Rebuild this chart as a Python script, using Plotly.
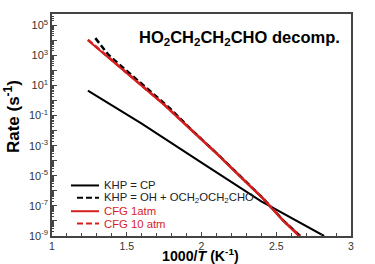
import plotly.graph_objects as go

# 1000/T (K^-1) and rates (s^-1)
x_khp_cp = [1.24, 1.6, 2.0, 2.4, 2.82]
y_khp_cp = [4.5e0, 2.9e-2, 7.5e-5, 2.0e-7, 1.0e-9]

x_khp_oh = [1.29, 1.33, 1.377, 1.468, 1.55, 1.65, 1.8, 1.926, 2.1, 2.3, 2.41, 2.55, 2.66]
y_khp_oh = [1.4e4, 4.5e3, 1.1e3, 1.75e2, 3.3e1, 4.8e0, 2.4e-1, 1.3e-2, 3.2e-4, 3.7e-6, 3.3e-7, 1.0e-8, 1.0e-9]

x_cfg1 = [1.24, 1.5, 1.75, 1.926, 2.1, 2.3, 2.41, 2.55, 2.65]
y_cfg1 = [1.0e4, 6.0e1, 5.0e-1, 1.2e-2, 3.0e-4, 3.5e-6, 3.1e-7, 9.3e-9, 1.0e-9]

x_cfg10 = [1.24, 1.5, 1.75, 1.926, 2.1, 2.3, 2.41, 2.55, 2.66]
y_cfg10 = [1.1e4, 6.6e1, 5.5e-1, 1.3e-2, 3.2e-4, 3.7e-6, 3.3e-7, 9.8e-9, 1.0e-9]

series_names = ["KHP = CP", "KHP = OH + OCH<sub>2</sub>OCH<sub>2</sub>CHO", "CFG 1atm", "CFG 10 atm"]

ytick_exp = list(range(-9, 6))
ytick_vals = [10.0 ** e for e in ytick_exp]
ytick_text = [f"10<sup>{e}</sup>" if e % 2 else " " for e in ytick_exp]

RED = "rgb(214,30,30)"
FONT = "Arial, Liberation Sans, sans-serif"
colors = ["black", "black", RED, RED]
dashes = ["solid", "6px,3px", "solid", "6px,3px"]
widths = [2, 2.5, 2, 2.5]

fig = go.Figure()
data = [(x_khp_cp, y_khp_cp), (x_khp_oh, y_khp_oh), (x_cfg10, y_cfg10), (x_cfg1, y_cfg1)]
idx = [0, 1, 3, 2]
for (xs, ys), i in zip(data, idx):
    fig.add_trace(go.Scatter(x=xs, y=ys, mode="lines", name=series_names[i], showlegend=False,
                             line=dict(color=colors[i], width=widths[i], dash=dashes[i])))

# manual compact legend (paper coordinates)
PL, PW, PB, PH = 52, 299, 236, 224
def px(v): return (v - PL) / PW
def py(v): return (PB - v) / PH
legend_y = [185, 197.5, 211, 223.5]
legend_x0 = [71, 77, 71, 77]
shapes, annots = [], []
for i in range(4):
    shapes.append(dict(type="line", xref="paper", yref="paper", x0=px(legend_x0[i]), x1=px(99),
                       y0=py(legend_y[i]), y1=py(legend_y[i]),
                       line=dict(color=colors[i], width=2, dash=dashes[i] if i % 2 else "solid")))
    annots.append(dict(text=series_names[i], xref="paper", yref="paper", x=px(102), y=py(legend_y[i]),
                       xanchor="left", yanchor="middle", showarrow=False,
                       font=dict(size=11.3, color=RED if i >= 2 else "#222", family=FONT)))

annots += [
    dict(text="<b>HO<sub>2</sub>CH<sub>2</sub>CH<sub>2</sub>CHO decomp.</b>", xref="paper", yref="paper",
         x=px(239), y=py(36), showarrow=False, font=dict(size=16.5, color="black", family=FONT),
         xanchor="center", yanchor="middle"),
    dict(text="<b>Rate (s<sup>-1</sup>)</b>", xref="paper", yref="paper", x=px(12), y=py(116),
         textangle=-90, showarrow=False, font=dict(size=17, color="black", family=FONT),
         xanchor="center", yanchor="middle"),
    dict(text="<b>1000/<i>T</i> (K<sup>-1</sup>)</b>", xref="paper", yref="paper", x=px(200), y=py(265),
         showarrow=False, font=dict(size=14.2, color="black", family=FONT),
         xanchor="center", yanchor="bottom", borderpad=0),
]

fig.update_layout(
    width=375, height=264,
    margin=dict(l=52, r=24, t=12, b=28),
    paper_bgcolor="white", plot_bgcolor="white",
    font=dict(family=FONT, size=11, color="#333"),
    showlegend=False,
    shapes=shapes,
    annotations=annots,
)

fig.update_xaxes(range=[1, 3], tickvals=[1, 1.5, 2, 2.5, 3], ticktext=["1", "1.5", "2", "2.5", "3"],
                 ticks="inside", ticklen=4, tickcolor="#444", showline=True, linecolor="#444",
                 linewidth=1.5, mirror=True, showgrid=False, zeroline=False,
                 tickfont=dict(size=10.5, color="#333"),
                 minor=dict(ticks="inside", ticklen=3, dtick=0.1, tick0=1, tickcolor="#444", showgrid=False))
fig.update_yaxes(type="log", range=[-9, 5.75], tickvals=ytick_vals, ticktext=ytick_text,
                 ticks="inside", ticklen=5, tickcolor="#444", showline=True, linecolor="#444",
                 linewidth=1.5, mirror=True, showgrid=False, zeroline=False,
                 tickfont=dict(size=11, color="#333"),
                 minor=dict(ticks="inside", ticklen=2.5, dtick="D1", tickcolor="#444", showgrid=False))

fig.write_html("out.html")
